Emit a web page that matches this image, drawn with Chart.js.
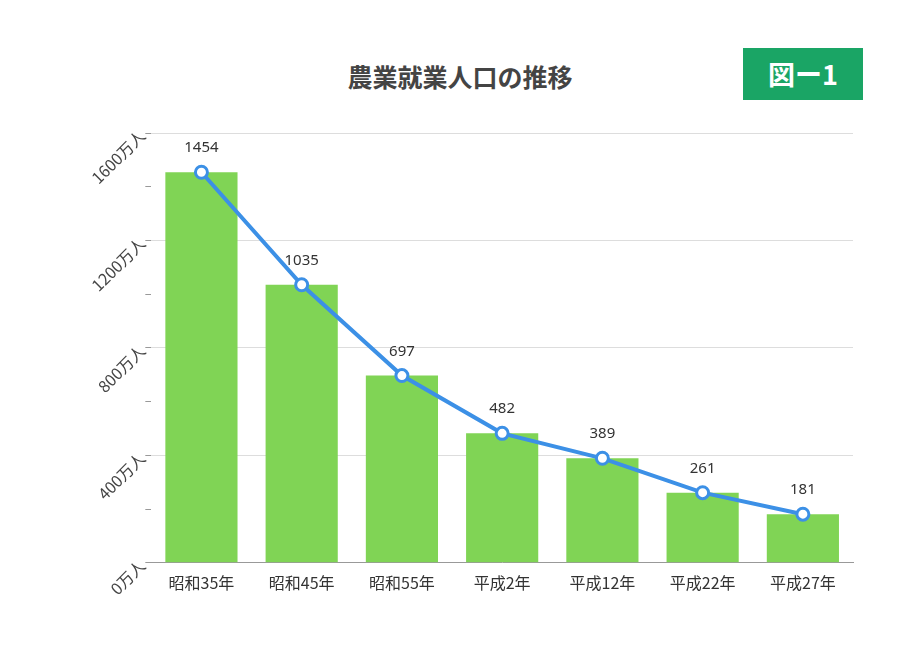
<!DOCTYPE html>
<html><head><meta charset="utf-8">
<script src="https://cdn.jsdelivr.net/npm/chart.js@4"></script>
<style>
body{margin:0;background:#fff;font-family:"Noto Sans CJK JP",sans-serif}
#wrap{position:relative;width:920px;height:648px}
#title{position:absolute;left:0;width:920px;top:58px;text-align:center;font-size:25px;font-weight:bold;color:#444}
#badge{position:absolute;left:743px;top:48px;width:120px;height:52px;background:#1aa565;color:#fff;font-size:27px;font-weight:bold;text-align:center;line-height:52px}
canvas{position:absolute;left:0;top:0}
</style></head><body>
<div id="wrap">
<div id="title">農業就業人口の推移</div>
<div id="badge">図ー1</div>
<canvas id="c" width="920" height="648"></canvas>
</div>
<script>
const categories = ['昭和35年','昭和45年','昭和55年','平成2年','平成12年','平成22年','平成27年'];
const population = [1454, 1035, 697, 482, 389, 261, 181];

const labelPlugin = {
  id: 'labels',
  afterDatasetsDraw(chart) {
    const ctx = chart.ctx;
    const meta = chart.getDatasetMeta(1);
    ctx.save();
    ctx.fillStyle = '#333';
    ctx.font = '15px "Noto Sans", sans-serif';
    ctx.textAlign = 'center';
    meta.data.forEach((p, i) => {
      ctx.fillText(population[i], p.x, p.y - 20);
    });
    ctx.restore();
  }
};

new Chart(document.getElementById('c'), {
  data: {
    labels: categories,
    datasets: [{
      type: 'bar',
      data: population,
      backgroundColor: '#80d455',
      categoryPercentage: 0.72,
      barPercentage: 1,
      order: 2
    }, {
      type: 'line',
      data: population,
      borderColor: '#3c90e6',
      borderWidth: 4,
      pointRadius: 6,
      pointBorderWidth: 3,
      pointBackgroundColor: '#fff',
      pointBorderColor: '#3c90e6',
      order: 1
    }]
  },
  options: {
    responsive: false,
    animation: false,
    layout: { padding: { left: 78, top: 133, right: 67, bottom: 52 } },
    plugins: { legend: { display: false }, tooltip: { enabled: false } },
    scales: {
      x: {
        grid: { display: false },
        border: { color: '#999' },
        ticks: { color: '#333', font: { size: 16, family: '"Noto Sans CJK JP"' } }
      },
      y: {
        min: 0, max: 1600,
        ticks: {
          stepSize: 200,
          color: '#444',
          maxRotation: 45, minRotation: 45,
          font: { size: 16, family: '"Noto Sans CJK JP"' },
          callback: v => v % 400 === 0 ? v + '万人' : ''
        },
        grid: {
          color: c => c.tick && c.tick.value % 400 === 0 && c.tick.value > 0 ? '#ddd' : 'rgba(0,0,0,0)',
          tickColor: '#999',
          tickLength: 6
        },
        border: { display: false }
      }
    }
  },
  plugins: [labelPlugin]
});
</script>
</body></html>
